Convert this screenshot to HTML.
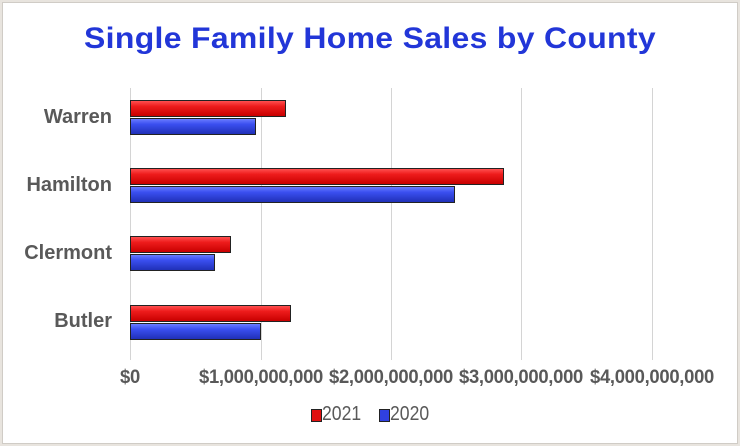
<!DOCTYPE html>
<html><head><style>
body{margin:0;background:#e8e4de;}
.wrap{position:relative;width:740px;height:446px;overflow:hidden;}
.frame{position:absolute;left:2px;top:2px;width:734px;height:440px;background:#fff;border:1px solid #d0ccc6;}
.t{position:absolute;font-family:"Liberation Sans",sans-serif;font-weight:bold;}
.g{position:absolute;top:88px;width:1px;height:272px;background:#d4d4d4;}
.b{position:absolute;left:130px;height:17px;box-sizing:border-box;border:1px solid #222;}
.r{background:linear-gradient(#ff5050,#ee1c1c 35%,#c80000);}
.u{background:linear-gradient(#6a7cff,#3a4ff0 35%,#2030b8);}
.c{position:absolute;top:367px;font-family:"Liberation Sans",sans-serif;font-weight:bold;font-size:19px;color:#595959;transform:translateX(-50%) scaleX(0.97);white-space:nowrap;letter-spacing:-0.3px}
</style></head><body><div class="wrap"><div class="frame"></div>
<div class="t" style="left:0;width:740px;top:22px;text-align:center;font-size:30px;color:#2236d8;transform:scaleX(1.065);letter-spacing:0.3px">Single Family Home Sales by County</div>
<div class="g" style="left:130px"></div><div class="g" style="left:261px"></div><div class="g" style="left:391px"></div><div class="g" style="left:521px"></div><div class="g" style="left:652px"></div>
<div class="t" style="right:628px;top:106px;font-size:20px;color:#595959">Warren</div>
<div class="t" style="right:628px;top:174px;font-size:20px;color:#595959">Hamilton</div>
<div class="t" style="right:628px;top:242px;font-size:20px;color:#595959">Clermont</div>
<div class="t" style="right:628px;top:310px;font-size:20px;color:#595959">Butler</div>
<div class="b r" style="top:100px;width:156px"></div><div class="b u" style="top:118px;width:126px"></div>
<div class="b r" style="top:168px;width:374px"></div><div class="b u" style="top:186px;width:325px"></div>
<div class="b r" style="top:236px;width:101px"></div><div class="b u" style="top:254px;width:85px"></div>
<div class="b r" style="top:305px;width:161px"></div><div class="b u" style="top:323px;width:131px"></div>
<div class="c" style="left:130px">$0</div><div class="c" style="left:261px">$1,000,000,000</div><div class="c" style="left:391px">$2,000,000,000</div><div class="c" style="left:521px">$3,000,000,000</div><div class="c" style="left:652px">$4,000,000,000</div>
<div style="position:absolute;left:311px;top:409px;width:9px;height:11px;border:1px solid #222;background:#e01010"></div>
<div class="t" style="left:322px;top:403px;font-size:20px;color:#595959;font-weight:normal;transform:scaleX(0.88);transform-origin:left">2021</div>
<div style="position:absolute;left:379px;top:409px;width:9px;height:11px;border:1px solid #222;background:#3040e0"></div>
<div class="t" style="left:390px;top:403px;font-size:20px;color:#595959;font-weight:normal;transform:scaleX(0.88);transform-origin:left">2020</div>
</div></body></html>
